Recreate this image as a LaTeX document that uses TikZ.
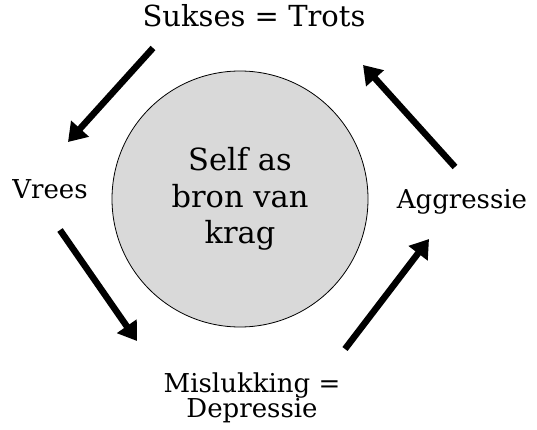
\documentclass[tikz,border=0pt]{standalone}
\usepackage{fontspec}
\setmainfont{DejaVu Serif}
\usepackage{xcolor}
\usepackage{tikz}
\usetikzlibrary{arrows.meta}

\definecolor{coregray}{RGB}{217,217,217}

\tikzset{
    phase/.style={font=\fontsize{26}{25}\selectfont, inner sep=0pt, align=center},
    flow/.style={line width=6.5pt, -{Triangle[length=18pt,width=23pt]}},
}

\begin{document}
\begin{tikzpicture}[x=1pt, y=-1pt]
    \useasboundingbox (0,0) rectangle (537,430);
    \node (self) [circle, draw, line width=0.8pt, fill=coregray, minimum size=256pt,
        inner sep=0pt, align=center, font=\fontsize{30.5}{36.5}\selectfont]
        at (240,199) {Self as\\bron van\\krag};
    \node (succ) [phase, anchor=base, font=\fontsize{29}{25}\selectfont] at (254,27) {Sukses = Trots};
    \node (fear) [phase, anchor=base] at (50,198) {Vrees};
    \node (aggr) [phase, anchor=base] at (462,208) {Aggressie};
    \node (fail) [phase] at (252,397.5) {Mislukking =\\Depressie};
    % arrow ends
    \coordinate (succ-out) at (153,48);
    \coordinate (fear-in) at (68,142);
    \coordinate (fear-out) at (60,230);
    \coordinate (fail-in) at (137,341);
    \coordinate (fail-out) at (345,349);
    \coordinate (aggr-in) at (429,239);
    \coordinate (aggr-out) at (455,167);
    \coordinate (succ-in) at (363,65);
    \draw[flow] (succ-out) -- (fear-in);
    \draw[flow] (fear-out) -- (fail-in);
    \draw[flow] (fail-out) -- (aggr-in);
    \draw[flow] (aggr-out) -- (succ-in);
\end{tikzpicture}
\end{document}
